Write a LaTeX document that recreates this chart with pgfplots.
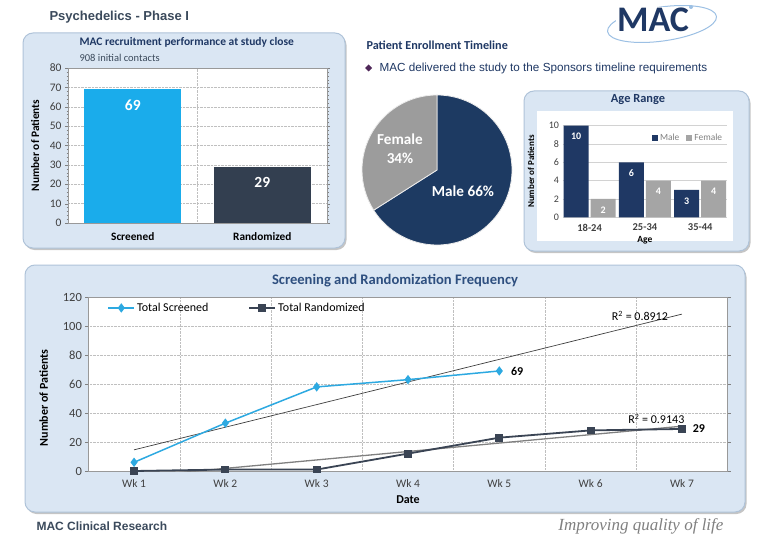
\documentclass[border=0pt]{standalone}
\usepackage{pgfplots}
\pgfplotsset{compat=1.18}
\usepackage{fontspec}
\setmainfont{Carlito}
\newfontfamily\arialf{Liberation Sans}
\newfontfamily\seriff{Liberation Serif}
\usetikzlibrary{shadows}
\definecolor{navy}{HTML}{1F3864}
\definecolor{scrbar}{HTML}{1AACEB}
\definecolor{rndbar}{HTML}{333F50}
\definecolor{scrline}{HTML}{2DA9E1}
\definecolor{rndline}{HTML}{3A4454}
\definecolor{fem}{HTML}{A5A5A5}
\definecolor{piemale}{HTML}{1D3A62}
\definecolor{piefem}{HTML}{9C9C9C}
\definecolor{panelfill}{HTML}{DAE6F3}
\definecolor{panelborder}{HTML}{AFC3D9}
\definecolor{hdr}{HTML}{3B4A5C}
\definecolor{btitle}{HTML}{2E4F7F}
\definecolor{logoblue}{HTML}{9CC0E4}
\definecolor{tickgray}{HTML}{404040}
\definecolor{gridgray}{HTML}{BFBFBF}
\pgfplotsset{every axis/.append style={/pgf/number format/assume math mode=true}}
\begin{document}
\begin{tikzpicture}[x=1pt,y=1pt]
\fill[white] (0,0) rectangle (768,536);
% header
\node[anchor=west, font=\arialf\bfseries\fontsize{13}{15}\selectfont, text=hdr] at (46,519) {Psychedelics - Phase I};
% logo
\draw[logoblue, line width=1pt] (662,512) ellipse [x radius=55, y radius=17, rotate=8];
\node[font=\bfseries\fontsize{36}{36}\selectfont, text=navy, fill=white, inner sep=1pt] at (653,516) {MAC};
\fill[logoblue] (691,529) circle (2);
% panels
\filldraw[fill=panelfill, draw=panelborder, line width=1pt, rounded corners=10pt, drop shadow={shadow xshift=1.5pt, shadow yshift=-2pt, opacity=0.45}] (23,288) rectangle (345,503);
\filldraw[fill=panelfill, draw=panelborder, line width=1pt, rounded corners=10pt, drop shadow={shadow xshift=1.5pt, shadow yshift=-2pt, opacity=0.45}] (524,285) rectangle (749,445);
\filldraw[fill=panelfill, draw=panelborder, line width=1pt, rounded corners=10pt, drop shadow={shadow xshift=1.5pt, shadow yshift=-2pt, opacity=0.45}] (25,24) rectangle (745,271);
\fill[white] (537,295) rectangle (733,425);
% panel 1 titles
\node[anchor=west, font=\bfseries\fontsize{11.5}{13}\selectfont, text=navy] at (76,494) {MAC recruitment performance at study close};
\node[anchor=west, font=\fontsize{10.5}{12}\selectfont, text=hdr] at (76,478) {908 initial contacts};
% middle texts
\node[anchor=west, font=\bfseries\fontsize{12.2}{14}\selectfont, text=navy] at (363,491) {Patient Enrollment Timeline};
\fill[navy!70!purple] (365,468)--(368.5,471.5)--(372,468)--(368.5,464.5)--cycle;
\node[anchor=west, font=\arialf\fontsize{11.7}{13}\selectfont, text=navy] at (376,468) {MAC delivered the study to the Sponsors timeline requirements};
% footer
\node[anchor=west, font=\arialf\bfseries\fontsize{12}{14}\selectfont, text=hdr] at (33,10) {MAC Clinical Research};
\node[anchor=east, font=\seriff\itshape\fontsize{17}{19}\selectfont, text=gray] at (727,10) {Improving quality of life};

% chart 1
\begin{axis}[at={(68pt,313pt)}, anchor=south west, scale only axis, width=259pt, height=155pt,
 xmin=-0.5, xmax=1.5, ymin=0, ymax=80,
 ytick={0,10,...,80}, minor y tick num=4,
 xtick={0,1}, xticklabels={Screened,Randomized},
 xticklabel style={font=\bfseries\fontsize{11.3}{13}\selectfont, text=black, yshift=-3pt},
 yticklabel style={font=\fontsize{11.5}{12}\selectfont, text=tickgray},
 minor xtick={0.5}, xminorgrids=true, ymajorgrids=true,
 major grid style={densely dotted, gridgray}, minor grid style={densely dotted, gridgray},
 xtick style={draw=none}, ytick style={gray}, tick align=outside, major tick length=3pt, minor tick length=1.5pt,
 axis line style={gray!80}, axis background/.style={fill=white},
 ylabel={Number of Patients}, ylabel style={font=\bfseries\fontsize{11.4}{13}\selectfont, at={(axis description cs:-0.127,0.5)}, anchor=center},
 ybar, bar width=97pt,
 nodes near coords, every node near coord/.append style={font=\bfseries\fontsize{15.5}{16}\selectfont, text=white, anchor=center, yshift=-16pt},
]
\addplot[fill=scrbar, draw=none, bar shift=0pt] coordinates {(0,69)};
\addplot[fill=rndbar, draw=none, bar shift=0pt] coordinates {(1,29)};
\end{axis}

% pie
\pgfmathsetmacro{\maleang}{90-3.6*66}
\pgfmathsetmacro{\femang}{90+3.6*34}
\begin{axis}[at={(437pt,366pt)}, anchor=center, scale only axis, width=150pt, height=150pt, hide axis, xmin=-1, xmax=1, ymin=-1, ymax=1, clip=false]
\filldraw[fill=piemale, draw=white!85!gray, line width=0.8pt] (axis cs:0,0) -- (axis cs:0,1) arc[start angle=90, end angle=\maleang, radius=75pt] -- cycle;
\filldraw[fill=piefem, draw=white!85!gray, line width=0.8pt] (axis cs:0,0) -- (axis cs:0,1) arc[start angle=90, end angle=\femang, radius=75pt] -- cycle;
\end{axis}
\node[font=\bfseries\fontsize{15.2}{19}\selectfont, text=white, align=center] at (400,387.5) {Female\\34\%};
\node[font=\bfseries\fontsize{15.2}{17}\selectfont, text=white] at (463,344.5) {Male 66\%};

% age range
\node[font=\bfseries\fontsize{12.4}{14}\selectfont, text=navy] at (638,436) {Age Range};
\begin{axis}[at={(562.5pt,318.7pt)}, anchor=south west, scale only axis, width=164.8pt, height=91.6pt,
 xmin=-0.49, xmax=2.49, ymin=0, ymax=10, ytick={0,2,...,10}, xtick={0,1,2}, xticklabels={18-24,25-34,35-44},
 ybar=2pt, bar width=25pt,
 axis line style={draw=none}, tick style={draw=none},
 ymajorgrids=true, major grid style={gray!35},
 xticklabel style={font=\bfseries\fontsize{10.5}{12}\selectfont, text=tickgray, yshift=1pt},
 yticklabel style={font=\fontsize{10}{11}\selectfont, text=tickgray},
 xlabel={Age}, xlabel style={font=\bfseries\fontsize{9.5}{10}\selectfont, at={(axis description cs:0.5,-0.245)}, anchor=center},
 ylabel={Number of Patients}, ylabel style={font=\bfseries\fontsize{9}{10}\selectfont, at={(axis description cs:-0.191,0.5)}, anchor=center},
 nodes near coords, every node near coord/.append style={font=\bfseries\fontsize{10}{11}\selectfont, text=white, anchor=center, yshift=-11pt},
 legend style={at={(1,0.87)}, anchor=east, draw=none, fill=none, font=\fontsize{9.4}{10}\selectfont, legend columns=2, /tikz/every even column/.append style={column sep=5pt}},
 legend image code/.code={\fill[#1, draw=none] (0pt,-3pt) rectangle (6pt,3pt);},
]
\addplot[fill=navy, draw=none] coordinates {(0,10)(1,6)(2,3)};
\addplot[fill=fem, draw=none] coordinates {(0,2)(1,4)(2,4)};
\legend{\textcolor{gray}{Male},\textcolor{gray}{Female}}
\end{axis}

% bottom chart
\node[font=\bfseries\fontsize{14.6}{16}\selectfont, text=btitle] at (395,255) {Screening and Randomization Frequency};
\begin{axis}[at={(88.4pt,65pt)}, anchor=south west, scale only axis, width=639.2pt, height=174pt,
 xmin=0.5, xmax=7.5, ymin=0, ymax=120, ytick={0,20,...,120}, xtick={1,...,7},
 xticklabels={Wk 1,Wk 2,Wk 3,Wk 4,Wk 5,Wk 6,Wk 7},
 minor xtick={1.5,2.5,...,6.5}, xminorgrids=true, ymajorgrids=true,
 major grid style={densely dotted, gridgray}, minor grid style={densely dotted, gridgray},
 xtick style={draw=none}, ytick style={gray}, tick align=outside, major tick length=3pt,
 axis line style={gray!80}, axis background/.style={fill=white},
 xticklabel style={font=\fontsize{11.5}{13}\selectfont, text=tickgray, yshift=-2pt},
 yticklabel style={font=\fontsize{12.5}{14}\selectfont, text=tickgray},
 xlabel={Date}, xlabel style={font=\bfseries\fontsize{12}{13}\selectfont, at={(axis description cs:0.5,-0.167)}, anchor=center},
 ylabel={Number of Patients}, ylabel style={font=\bfseries\fontsize{12}{13}\selectfont, at={(axis description cs:-0.07,0.42)}, anchor=center},
 clip mode=individual,
 legend style={at={(0.025,0.937)}, anchor=west, draw=none, fill=none, font=\fontsize{12}{13}\selectfont, legend columns=2, /tikz/every even column/.append style={column sep=38pt}},
 legend image code/.code={\draw[mark repeat=2, mark phase=2, #1] plot coordinates {(0pt,0pt) (13pt,0pt) (26pt,0pt)};},
]
\addplot[black!75, line width=0.7pt, forget plot] coordinates {(1,14.6)(7,108.2)};
\addplot[gray, line width=1.3pt, forget plot] coordinates {(1,-4.0)(7,30.9)};
\addplot[scrline, line width=1.5pt, mark=diamond*, mark size=3.5pt, mark options={fill=scrline, draw=scrline}] coordinates {(1,6)(2,33)(3,58)(4,63)(5,69)};
\addplot[rndline, line width=1.8pt, mark=square*, mark size=3pt, mark options={fill=rndline, draw=rndline}] coordinates {(1,0)(2,1)(3,1)(4,12)(5,23)(6,28)(7,29)};
\legend{Total Screened, Total Randomized}
\node[anchor=west, font=\bfseries\fontsize{12}{13}\selectfont, text=black] at (axis cs:5.09,69) {69};
\node[anchor=west, font=\bfseries\fontsize{12}{13}\selectfont, text=black] at (axis cs:7.08,29) {29};
\node[font=\fontsize{12}{13}\selectfont] at (axis cs:6.54,106.9) {R\textsuperscript{2} = 0.8912};
\node[font=\fontsize{12}{13}\selectfont] at (axis cs:6.72,35.9) {R\textsuperscript{2} = 0.9143};
\end{axis}
\end{tikzpicture}
\end{document}
